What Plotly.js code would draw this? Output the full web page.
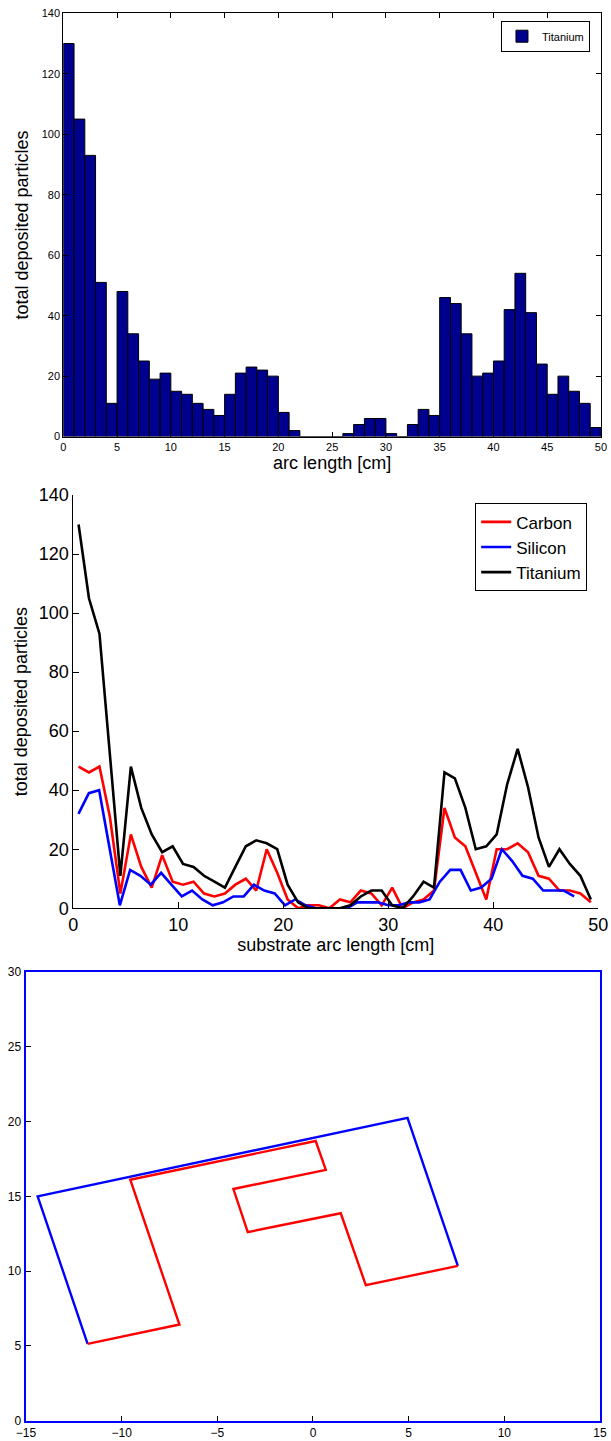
<!DOCTYPE html>
<html>
<head>
<meta charset="utf-8">
<script src="https://cdn.plot.ly/plotly-3.0.1.min.js"></script>
<style>html,body{margin:0;padding:0;background:#fff;}#chart{width:611px;height:1441px;}</style>
</head>
<body>
<div id="chart"></div>
<script>
// ---- top: histogram of Titanium deposits ----
const binCenters = [0.5,1.5,2.5,3.5,4.5,5.5,6.5,7.5,8.5,9.5,10.5,11.5,12.5,13.5,14.5,15.5,16.5,17.5,18.5,19.5,20.5,21.5,22.5,23.5,24.5,25.5,26.5,27.5,28.5,29.5,30.5,31.5,32.5,33.5,34.5,35.5,36.5,37.5,38.5,39.5,40.5,41.5,42.5,43.5,44.5,45.5,46.5,47.5,48.5,49.5];
const titanium = [130,105,93,51,11,48,34,25,19,21,15,14,11,9,7,14,21,23,22,20,8,2,0,0,0,0,1,4,6,6,1,0,4,9,7,46,44,34,20,21,25,42,54,41,24,14,20,15,11,3];

// ---- middle: line profiles ----
const arcTiC = [0.50,1.49,2.49,3.48,4.48,5.48,6.47,7.47,8.46,9.46,10.45,11.45,12.45,13.44,14.44,15.43,16.43,17.42,18.42,19.42,20.41,21.41,22.40,23.40,24.39,25.39,26.39,27.38,28.38,29.37,30.37,31.36,32.36,33.36,34.35,35.35,36.34,37.34,38.33,39.33,40.32,41.32,42.32,43.31,44.31,45.30,46.30,47.29,48.29,49.29];
const arcSi = [0.49,1.48,2.46,3.44,4.43,5.41,6.39,7.38,8.36,9.34,10.33,11.31,12.29,13.28,14.26,15.24,16.23,17.21,18.19,19.18,20.16,21.14,22.13,23.11,24.09,25.08,26.06,27.04,28.03,29.01,29.99,30.98,31.96,32.95,33.93,34.91,35.90,36.88,37.86,38.85,39.83,40.81,41.80,42.78,43.76,44.75,45.73,46.71,47.70];
const carbon = [48,46,48,31,5,25,14,7,18,9,8,9,5,4,5,8,10,6,20,12,3,0,1,1,0,3,2,6,5,1,7,0,2,3,6,34,24,21,12,3,20,20,22,19,11,10,6,6,5,2];
const silicon = [32,39,40,21,1,13,11,8,12,8,4,6,3,1,2,4,4,8,6,5,1,3,1,0,0,0,0,2,2,2,1,1,2,2,3,9,13,13,6,7,10,20,16,11,10,6,6,6,4];

// ---- bottom: geometry ----
const outlineX = [-11.78,-14.39,4.94,7.57];
const outlineY = [5.14,15.00,20.25,10.35];
const substrateX = [-11.78,-6.98,-9.55,0.14,0.67,-4.16,-3.41,1.45,2.76,7.57];
const substrateY = [5.14,6.43,16.11,18.70,16.77,15.49,12.61,13.87,9.06,10.35];

const FONT = '"Liberation Sans", Arial, Helvetica, sans-serif';

const traces = [
  {type:'bar', x:binCenters, y:titanium, width:1, name:'Titanium',
   marker:{color:'#00008f', line:{color:'#000000', width:1}},
   xaxis:'x', yaxis:'y', legend:'legend'},
  {type:'scatter', mode:'lines', x:arcTiC, y:carbon, name:'Carbon',
   line:{color:'#ff0000', width:2.6}, xaxis:'x2', yaxis:'y2', legend:'legend2'},
  {type:'scatter', mode:'lines', x:arcSi, y:silicon, name:'Silicon',
   line:{color:'#0000ff', width:2.6}, xaxis:'x2', yaxis:'y2', legend:'legend2'},
  {type:'scatter', mode:'lines', x:arcTiC, y:titanium, name:'Titanium',
   line:{color:'#000000', width:2.6}, xaxis:'x2', yaxis:'y2', legend:'legend2'},
  {type:'scatter', mode:'lines', x:outlineX, y:outlineY, showlegend:false,
   line:{color:'#0000ff', width:2.4}, xaxis:'x3', yaxis:'y3'},
  {type:'scatter', mode:'lines', x:substrateX, y:substrateY, showlegend:false,
   line:{color:'#ff0000', width:2.4}, xaxis:'x3', yaxis:'y3'}
];

const baseAxis = {showgrid:false, zeroline:false, showline:true, linecolor:'#000', linewidth:1,
  ticks:'inside', ticklen:5, tickcolor:'#000', tickwidth:1, fixedrange:true};

const layout = {
  width:611, height:1441, margin:{l:0,r:0,t:0,b:0},
  paper_bgcolor:'#fff', plot_bgcolor:'#fff',
  font:{family:FONT, color:'#000'},
  bargap:0,
  xaxis:Object.assign({}, baseAxis, {domain:[0.1036,0.9836], anchor:'y', range:[0,50], dtick:5, tick0:0,
    mirror:'ticks', tickfont:{size:11}, title:{text:'arc length [cm]', font:{size:18}, standoff:4}}),
  yaxis:Object.assign({}, baseAxis, {domain:[0.6970,0.9908], anchor:'x', range:[0,140], dtick:20, tick0:0,
    mirror:'ticks', tickfont:{size:11}, title:{text:'total deposited particles', font:{size:18}, standoff:8}}),
  xaxis2:Object.assign({}, baseAxis, {domain:[0.12,0.9792], anchor:'y2', range:[0,50], dtick:10, tick0:0,
    ticklen:6, tickfont:{size:18}, title:{text:'substrate arc length [cm]', font:{size:18}, standoff:2}}),
  yaxis2:Object.assign({}, baseAxis, {domain:[0.3697,0.6565], anchor:'x2', range:[0,140], dtick:20, tick0:0,
    ticklen:6, tickfont:{size:18}, title:{text:'total deposited particles', font:{size:18}, standoff:6}}),
  xaxis3:Object.assign({}, baseAxis, {domain:[0.04255,0.982], anchor:'y3', range:[-15,15], dtick:5, tick0:-15,
    mirror:true, linecolor:'#0000ff', linewidth:2.4, tickfont:{size:12}}),
  yaxis3:Object.assign({}, baseAxis, {domain:[0.01409,0.32547], anchor:'x3', range:[0,30], dtick:5, tick0:0,
    mirror:true, linecolor:'#0000ff', linewidth:2.4, tickfont:{size:12}}),
  legend:{x:0.9656, y:0.98563, xanchor:'right', yanchor:'top', bgcolor:'#fff',
    bordercolor:'#000', borderwidth:1, font:{size:11}, tracegroupgap:0},
  legend2:{x:0.961, y:0.6507, xanchor:'right', yanchor:'top', bgcolor:'#fff',
    bordercolor:'#000', borderwidth:1, font:{size:17}, tracegroupgap:0}
};

Plotly.newPlot('chart', traces, layout, {staticPlot:true, displayModeBar:false});
</script>
</body>
</html>
